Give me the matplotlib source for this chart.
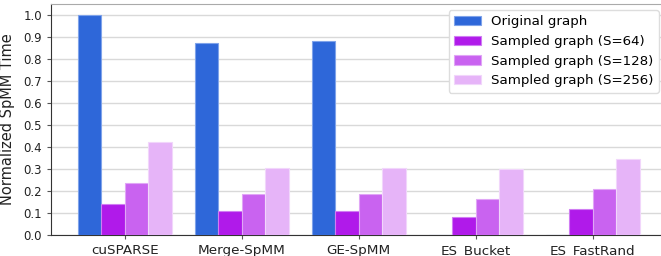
import matplotlib.pyplot as plt
import numpy as np

methods = ['cuSPARSE', 'Merge-SpMM', 'GE-SpMM', 'ES_Bucket', 'ES_FastRand']
original = [1.0, 0.875, 0.882, 0.0, 0.0]
s64 = [0.14, 0.11, 0.11, 0.08, 0.12]
s128 = [0.237, 0.188, 0.188, 0.162, 0.207]
s256 = [0.423, 0.303, 0.305, 0.30, 0.345]

series = [
    ('Original graph', original, '#2e67d9', '#7fa3ea'),
    ('Sampled graph (S=64)', s64, '#b01aea', '#d07df3'),
    ('Sampled graph (S=128)', s128, '#c963f0', '#e0a6f6'),
    ('Sampled graph (S=256)', s256, '#e6b4f8', '#f1d6fb'),
]

fig = plt.figure(figsize=(6.61, 2.56), dpi=100)
ax = fig.add_axes([51 / 661, 21 / 256, 612 / 661, 231 / 256])

x = np.arange(len(methods))
width = 0.2
for i, (label, vals, color, edge) in enumerate(series):
    ax.bar(x + (i - 1.5) * width, vals, width, label=label, color=color,
           edgecolor=edge, linewidth=0.8, zorder=3)

ax.set_xlim(-0.63, 4.6)
ax.set_ylim(0, 1.05)
ax.set_yticks(np.arange(0, 1.01, 0.1))
ax.set_yticklabels([f'{v:.1f}' for v in np.arange(0, 1.01, 0.1)], fontsize=8.5)
ax.set_xticks(x)
ax.set_xticklabels(methods, fontsize=9.7)
ax.set_ylabel('Normalized SpMM Time', fontsize=10.5, labelpad=6, color='#222222')
ax.grid(axis='y', color='#d9d9d9', linewidth=1.0, zorder=0)
ax.tick_params(axis='both', length=3, color='#555555', labelcolor='#222222')
ax.spines['right'].set_visible(False)
ax.spines['top'].set_color('#aaaaaa')
ax.spines['left'].set_color('#333333')
ax.spines['bottom'].set_color('#333333')

ax.legend(loc='upper right', fontsize=9.6, handlelength=2.0, borderaxespad=0,
          bbox_to_anchor=(0.9934, 0.974), framealpha=1, edgecolor='#dddddd')

fig.savefig('out.png', dpi=100)
